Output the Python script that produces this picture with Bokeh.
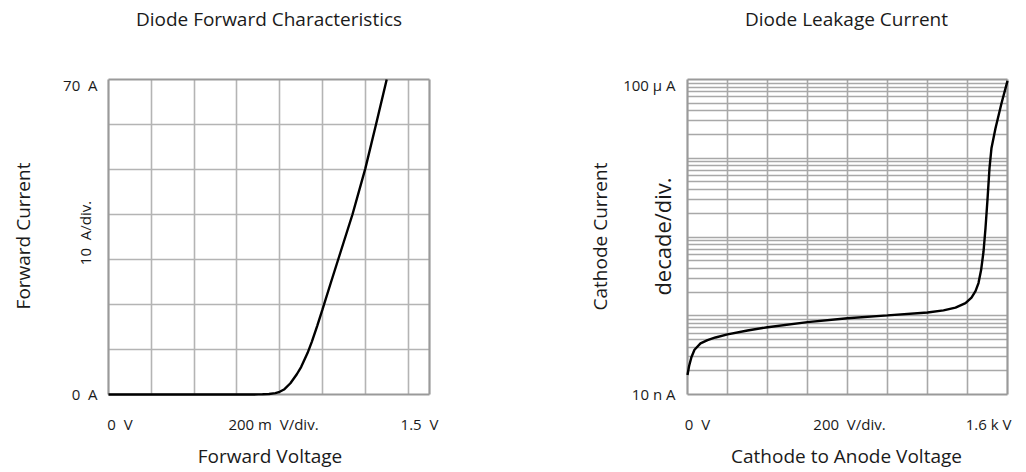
import math
from bokeh.plotting import figure
from bokeh.models import Range1d, Label, FixedTicker, Grid
from bokeh.layouts import row
from bokeh.embed import file_html
from bokeh.resources import INLINE

FONT = "Open Sans"
TXT = "#1a1a1a"
NB = "\u00a0"   # keeps the wide gaps of the original labels

# ---------------- data: Diode Forward Characteristics ----------------
fwd_voltage = [0.0, 0.60, 0.65, 0.70, 0.72, 0.75, 0.78, 0.80, 0.82, 0.85, 0.88, 0.90,
               0.93, 0.95, 0.975, 1.0, 1.04, 1.08, 1.14, 1.20, 1.25, 1.30]
fwd_current = [0.0, 0.0, 0.0, 0.02, 0.05, 0.12, 0.3, 0.6, 1.1, 2.5, 4.5, 6.1,
               9.2, 11.7, 15.2, 18.9, 25.0, 31.0, 40.0, 50.2, 60.0, 70.0]
fwd_x_range = (0.0, 1.5)
fwd_y_range = (0.0, 70.0)
fwd_x_grid = [0.2, 0.4, 0.6, 0.8, 1.0, 1.2, 1.4]
fwd_y_grid = [10, 20, 30, 40, 50, 60]

# ---------------- data: Diode Leakage Current ----------------
leak_voltage = [0, 8, 20, 35, 65, 100, 140, 200, 300, 400, 600, 800, 1000, 1200, 1280,
                1340, 1390, 1420, 1440, 1455, 1468, 1480, 1490, 1500, 1510, 1520, 1540,
                1570, 1600]
leak_current = [1.77e-8, 2.3e-8, 3.0e-8, 3.7e-8, 4.45e-8, 4.9e-8, 5.3e-8, 5.8e-8, 6.5e-8,
                7.15e-8, 8.3e-8, 9.3e-8, 1.01e-7, 1.1e-7, 1.17e-7, 1.27e-7, 1.45e-7,
                1.7e-7, 2.05e-7, 2.6e-7, 3.8e-7, 6.5e-7, 1.3e-6, 3.0e-6, 7.5e-6, 1.35e-5,
                2.4e-5, 5.0e-5, 9.6e-5]
leak_x_range = (0.0, 1600.0)
leak_y_range = (1e-8, 1e-4)
leak_x_grid = [200, 400, 600, 800, 1000, 1200, 1400]
leak_decades = [1e-7, 1e-6, 1e-5]
leak_minor = [m * d for d in [1e-8, 1e-7, 1e-6, 1e-5] for m in [2, 3, 4, 5, 6, 7, 8, 9]]

# ---------------- texts ----------------
fwd_title = "Diode Forward Characteristics"
fwd_ylabels = ["70 " + NB + "A", "0 " + NB + "A"]
fwd_yunit = "10 " + NB + "A/div."
fwd_ytitle = "Forward Current"
fwd_xlabels = ["0 " + NB + "V", "200 m " + NB + "V/div.", "1.5 " + NB + "V"]
fwd_xtitle = "Forward Voltage"

leak_title = "Diode Leakage Current"
leak_ylabels = ["100 \u03bc A", "10 n A"]
leak_yunit = "decade/div."
leak_ytitle = "Cathode Current"
leak_xlabels = ["0 " + NB + "V", "200 " + NB + "V/div.", "1.6 k V"]
leak_xtitle = "Cathode to Anode Voltage"

# ---------------- layout (pixels) ----------------
W, H = 510, 470
BOX_TOP, BOX_BOTTOM = 79, 394
BOX1 = (108, 429)          # left chart box, x pixels within left canvas
BOX2 = (177, 497)          # right chart box, x pixels within right canvas


def lin_range(lo, hi, p0, p1, total):
    per = (hi - lo) / (p1 - p0)
    return Range1d(lo - p0 * per, hi + (total - p1) * per)


def make_fig(xr, yr, box, log_y=False):
    x_range = lin_range(xr[0], xr[1], box[0], box[1], W)
    if log_y:
        l0, l1 = math.log10(yr[0]), math.log10(yr[1])
        per = (l1 - l0) / (BOX_BOTTOM - BOX_TOP)
        y_range = Range1d(10 ** (l0 - (H - BOX_BOTTOM) * per), 10 ** (l1 + BOX_TOP * per))
    else:
        y_range = lin_range(yr[0], yr[1], H - BOX_BOTTOM, H - BOX_TOP, H)
    p = figure(width=W, height=H, x_range=x_range, y_range=y_range,
               y_axis_type="log" if log_y else "linear",
               x_axis_location=None, y_axis_location=None, title=None,
               toolbar_location=None, output_backend="svg",
               min_border=0, min_border_left=0, min_border_right=0,
               min_border_top=0, min_border_bottom=0)
    p.outline_line_color = None
    p.background_fill_color = "white"
    p.border_fill_color = "white"
    return p


def style_grids(p, xr, yr, xticks, yticker, color):
    p.xgrid.ticker = FixedTicker(ticks=xticks)
    p.ygrid.ticker = yticker
    for g in p.xgrid:
        g.bounds = xr
        g.cross_bounds = yr
    for g in p.ygrid:
        g.bounds = yr
        g.cross_bounds = xr
    p.grid.grid_line_color = color
    p.grid.grid_line_width = 1.6
    # chart frame
    p.add_layout(Grid(dimension=0, ticker=FixedTicker(ticks=list(xr)), bounds=xr,
                      cross_bounds=yr, grid_line_color="#9a9a9a", grid_line_width=2.2))
    p.add_layout(Grid(dimension=1, ticker=FixedTicker(ticks=list(yr)), bounds=yr,
                      cross_bounds=xr, grid_line_color="#9a9a9a", grid_line_width=2.2))


def lab(p, px, py, text, size, align="center", angle=0.0):
    p.add_layout(Label(x=px, y=H - py, x_units="screen", y_units="screen", text=text,
                       text_font=FONT, text_font_size=f"{size}px", text_color=TXT,
                       text_align=align, text_baseline="middle", angle=angle))


# ---------------- left figure ----------------
p1 = make_fig(fwd_x_range, fwd_y_range, BOX1)
style_grids(p1, fwd_x_range, fwd_y_range, fwd_x_grid, FixedTicker(ticks=fwd_y_grid), "#b4b4b4")
p1.line(fwd_voltage, fwd_current, line_color="black", line_width=2.4)

lab(p1, 268.5, 18, fwd_title, 19)
lab(p1, 97, 84, fwd_ylabels[0], 15, align="right")
lab(p1, 97, 393, fwd_ylabels[1], 15, align="right")
lab(p1, 84, 232.5, fwd_yunit, 15, angle=math.pi / 2)
lab(p1, 22, 235.5, fwd_ytitle, 19, angle=math.pi / 2)
lab(p1, 119.5, 423.5, fwd_xlabels[0], 15)
lab(p1, 273, 423.5, fwd_xlabels[1], 15)
lab(p1, 419, 423.5, fwd_xlabels[2], 15)
lab(p1, 269.5, 455.5, fwd_xtitle, 19)

# ---------------- right figure ----------------
OFF = 510
p2 = make_fig(leak_x_range, leak_y_range, BOX2, log_y=True)
style_grids(p2, leak_x_range, leak_y_range, leak_x_grid,
            FixedTicker(ticks=leak_decades, minor_ticks=leak_minor), "#a8a8a8")
p2.ygrid.minor_grid_line_color = "#a8a8a8"
p2.ygrid.minor_grid_line_width = 1.4
p2.line(leak_voltage, leak_current, line_color="black", line_width=2.4)

lab(p2, 846 - OFF, 18, leak_title, 19)
lab(p2, 675 - OFF, 84, leak_ylabels[0], 15, align="right")
lab(p2, 675 - OFF, 393, leak_ylabels[1], 15, align="right")
lab(p2, 661 - OFF, 236, leak_yunit, 22, angle=math.pi / 2)
lab(p2, 599 - OFF, 236, leak_ytitle, 19, angle=math.pi / 2)
lab(p2, 697 - OFF, 423, leak_xlabels[0], 15)
lab(p2, 849 - OFF, 423, leak_xlabels[1], 15)
lab(p2, 988 - OFF, 423, leak_xlabels[2], 15)
lab(p2, 846 - OFF, 455.5, leak_xtitle, 19)

layout = row(p1, p2)
open("out.html", "w").write(file_html(layout, INLINE))
